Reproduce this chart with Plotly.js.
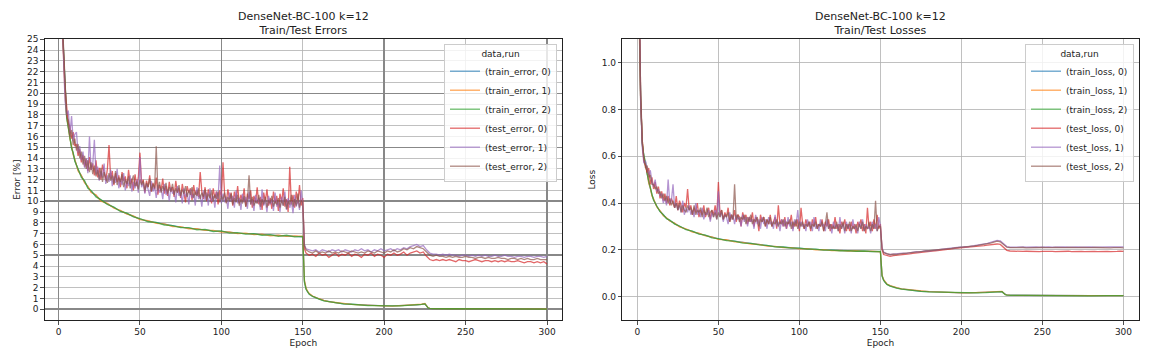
<!DOCTYPE html>
<html><head><meta charset="utf-8">
<script src="https://cdn.plot.ly/plotly-3.0.1.min.js"></script>
<style>html,body{margin:0;padding:0;background:#fff}#chart{width:1152px;height:360px}</style>
</head><body><div id="chart"></div>
<script>
// ---- data ----
const runs = [0, 1, 2];
const colors = ['#1f77b4', '#ff7f0e', '#2ca02c', '#d62728', '#9467bd', '#8c564b'];

// epochs at which the (smooth) train curves are sampled
const trainEpochs = [0,1,2,3,4,5,6,7,8,9, 10,12,14,16,18,20,23,26,30,34, 38,42,46,50,55,60,65,70,75,80,
  85,90,95,100,105,110,115,120,125,130, 135,140,145,150,151,152,153,154,156,158,
  160,163,166,170,175,180,185,190,195,200, 205,210,215,220,223,225,226,227,228,230, 240,250,260,270,280,290,300];

// test curves: every epoch up to 150, then epoch 151 and every 2nd epoch to 300
const testEpochs = [];
for (let e = 0; e <= 150; e++) testEpochs.push(e);
testEpochs.push(151);
for (let e = 152; e <= 300; e += 2) testEpochs.push(e);

const trainError0 = [48.0,33.0,27.0,24.0,20.0,17.8,16.9,15.9,15.0,14.4, 13.8,12.9,12.3,11.8,11.3,10.9,10.5,10.1,9.75,9.4,
  9.1,8.85,8.6,8.35,8.15,8.0,7.85,7.7,7.6,7.5, 7.4,7.35,7.25,7.2,7.1,7.05,7.0,6.95,6.9,6.85,
  6.8,6.8,6.75,6.7,2.6,1.9,1.6,1.4,1.2,1.05, 0.95,0.8,0.7,0.6,0.5,0.45,0.4,0.35,0.33,0.3,
  0.3,0.32,0.35,0.4,0.45,0.5,0.3,0.12,0.08,0.06, 0.04,0.03,0.03,0.02,0.02,0.02,0.02];
const trainError1 = [47.0,32.5,26.5,23.6,19.8,17.9,16.7,15.8,15.1,14.3, 13.9,12.8,12.4,11.7,11.4,10.8,10.6,10.0,9.8,9.35,
  9.15,8.8,8.65,8.3,8.2,7.95,7.9,7.65,7.65,7.45, 7.45,7.3,7.3,7.15,7.15,7.0,7.05,6.9,6.95,6.8,
  6.85,6.75,6.8,6.75,2.7,1.95,1.65,1.45,1.22,1.07, 0.97,0.82,0.7,0.62,0.52,0.44,0.41,0.36,0.32,0.31,
  0.29,0.33,0.36,0.42,0.46,0.52,0.32,0.13,0.08,0.06, 0.04,0.03,0.03,0.02,0.02,0.02,0.02];
const trainError2 = [48.5,33.5,27.2,24.2,20.2,17.7,16.8,16.0,14.9,14.5, 13.7,13.0,12.2,11.9,11.2,11.0,10.4,10.15,9.7,9.45,
  9.05,8.9,8.55,8.4,8.1,8.05,7.8,7.75,7.55,7.55, 7.35,7.4,7.2,7.25,7.05,7.1,6.95,7.0,6.85,6.9,
  6.75,6.85,6.7,6.75,2.5,1.85,1.55,1.38,1.18,1.03, 0.93,0.78,0.69,0.59,0.49,0.46,0.39,0.34,0.33,0.29,
  0.31,0.31,0.34,0.39,0.44,0.49,0.29,0.11,0.07,0.05, 0.04,0.03,0.02,0.02,0.02,0.02,0.01];

const testError0 = [48.0,33.5,27.0,24.0,20.5,18.8,17.2,16.9,15.8,16.4,
  15.1,15.3,14.2,14.8,13.6,14.3,13.2,13.9,12.8,14.1, 12.9,13.5,12.4,13.8,12.2,13.1,12.0,13.4,12.6,11.9,
  13.0,15.2,12.1,12.8,11.5,12.6,11.8,12.4,11.3,12.7, 11.9,12.3,11.2,12.9,11.6,12.1,11.0,12.5,11.4,12.2,
  14.5,11.6,12.0,10.8,11.9,11.3,12.4,10.9,11.7,11.1, 12.2,10.6,11.5,11.0,12.1,10.7,11.4,10.5,11.8,10.9,
  11.3,10.4,11.9,10.8,11.2,10.3,11.6,10.7,9.9,11.4, 10.8,11.2,10.1,11.5,10.6,11.0,10.4,12.7,10.9,10.2,
  11.3,10.0,11.1,10.5,9.8,11.2,10.3,10.9,9.7,11.0, 10.4,13.6,10.6,9.9,11.1,10.2,10.8,9.6,10.9,10.1,
  11.4,9.8,10.6,10.0,11.2,9.5,10.7,10.2,11.0,9.4, 10.5,9.9,11.3,9.7,10.4,9.2,10.8,10.0,11.1,9.6,
  10.3,9.3,10.9,9.8,10.5,9.1,10.7,9.9,11.2,9.5, 10.2,9.0,13.2,9.7,10.6,9.4,10.9,9.8,11.5,9.6, 10.3,
  5.6,5.2,5.0,5.1,4.9,5.2,5.0,5.1,4.8,5.0, 5.2,4.9,5.1,5.0,5.2,4.9,5.1,5.0,4.8,5.1,
  5.0,5.2,4.9,5.1,5.0,4.8,5.1,5.0,5.2,5.0, 5.1,5.3,5.0,5.2,5.3,5.4,5.2,5.3,4.9,4.6,
  4.5,4.6,4.5,4.6,4.5,4.6,4.5,4.4,4.6,4.5, 4.5,4.4,4.5,4.6,4.5,4.4,4.5,4.5,4.4,4.5,
  4.4,4.5,4.4,4.5,4.4,4.4,4.5,4.4,4.3,4.4, 4.4,4.3,4.4,4.3,4.4,4.2];
const testError1 = [50.0,34.0,27.5,23.5,19.3,18.0,18.4,16.3,17.9,15.6,
  16.2,16.4,14.5,15.1,13.8,14.6,13.1,14.0,12.6,16.0, 12.9,13.4,15.7,12.5,13.2,11.9,12.8,12.2,13.5,11.6,
  12.4,11.8,12.9,11.4,12.3,11.7,13.0,11.2,12.1,11.5, 12.6,11.0,11.9,11.4,12.4,10.9,11.8,11.2,12.0,10.8,
  14.1,11.3,11.7,10.7,11.6,11.1,10.5,11.9,10.9,11.4, 10.3,11.5,10.8,11.2,10.2,11.6,10.6,11.1,10.0,11.3,
  10.7,11.0,9.9,11.4,10.5,10.9,9.8,11.2,10.4,10.8, 9.7,11.1,10.3,10.7,9.6,11.3,10.2,10.6,9.5,11.0,
  10.1,10.8,9.6,11.2,10.0,10.5,9.4,10.9,10.2,13.3, 9.8,10.7,9.9,10.4,9.3,10.8,10.0,10.5,9.4,11.0,
  9.8,10.3,9.2,10.7,9.9,10.4,9.3,10.9,9.7,10.2, 9.1,10.6,9.8,10.3,9.2,11.1,9.6,10.1,9.0,10.5,
  9.7,10.2,9.1,10.8,9.5,10.0,9.0,10.4,9.6,10.9, 9.2,10.3,9.4,10.0,8.9,10.6,9.5,10.1,9.2,11.0, 9.7,
  6.0,5.6,5.5,5.4,5.5,5.3,5.5,5.4,5.3,5.5, 5.4,5.5,5.3,5.5,5.4,5.3,5.5,5.4,5.6,5.4,
  5.5,5.3,5.5,5.4,5.6,5.4,5.5,5.6,5.4,5.6, 5.5,5.7,5.6,5.8,5.9,6.0,5.8,5.9,5.5,5.2,
  5.1,5.1,5.0,5.1,5.0,5.1,5.0,5.0,4.9,5.0, 5.0,4.9,5.0,4.9,5.0,4.9,5.0,4.9,4.9,5.0,
  4.9,4.9,5.0,4.9,4.9,4.8,4.9,4.9,4.8,4.9, 4.9,4.8,4.9,4.9,4.8,4.9];
const testError2 = [49.0,33.0,28.0,24.5,20.8,17.8,17.5,16.0,16.6,15.2,
  15.8,14.7,15.3,14.0,14.6,13.4,14.2,13.0,13.8,12.7, 13.6,12.5,13.3,12.3,12.9,12.0,13.1,11.8,12.7,12.1,
  11.7,12.6,11.9,12.4,11.6,12.8,11.5,12.2,11.8,12.5, 11.3,12.0,11.6,12.3,11.2,11.9,12.4,11.4,11.8,11.1,
  12.0,11.5,11.9,11.0,11.7,11.3,12.1,10.9,11.6,11.2, 15.1,11.0,11.8,10.8,11.4,11.0,11.7,10.7,11.3,10.9,
  11.6,10.6,11.2,10.8,11.5,10.5,11.1,10.7,11.4,10.4, 11.0,10.6,11.3,10.3,10.9,10.5,11.2,10.2,10.8,10.4,
  11.1,10.1,10.7,10.3,11.0,10.0,10.6,10.2,10.9,9.9, 10.5,10.1,10.8,9.8,10.4,10.0,10.7,9.7,10.3,9.9,
  10.6,9.6,10.2,9.8,10.5,9.5,10.1,12.4,9.7,10.4, 9.6,10.0,9.8,10.6,9.5,10.2,9.7,10.4,9.4,10.1,
  9.8,10.5,9.5,10.0,9.7,10.3,9.4,10.1,9.6,10.4, 9.3,10.0,9.7,10.6,9.5,10.2,9.6,10.7,9.4,10.1, 9.9,
  5.9,5.5,5.3,5.2,5.4,5.2,5.3,5.2,5.4,5.2, 5.3,5.2,5.4,5.3,5.2,5.4,5.3,5.2,5.3,5.2,
  5.4,5.3,5.2,5.4,5.3,5.2,5.4,5.3,5.5,5.3, 5.4,5.6,5.5,5.7,5.6,5.8,5.7,5.6,5.3,5.0,
  4.9,5.0,4.9,4.9,4.8,4.9,4.8,4.9,4.8,4.8, 4.9,4.8,4.8,4.7,4.8,4.8,4.7,4.8,4.7,4.7,
  4.8,4.7,4.7,4.6,4.7,4.7,4.6,4.7,4.6,4.7, 4.6,4.6,4.7,4.6,4.6,4.6];

const trainLoss0 = [2.2,1.25,0.85,0.66,0.60,0.57,0.53,0.49,0.46,0.435, 0.415,0.385,0.365,0.348,0.335,0.325,0.312,0.30,0.288,0.278,
  0.269,0.262,0.253,0.247,0.241,0.236,0.231,0.227,0.222,0.218, 0.214,0.211,0.208,0.206,0.204,0.202,0.200,0.198,0.197,0.196,
  0.195,0.194,0.193,0.192,0.09,0.07,0.06,0.053,0.046,0.041, 0.037,0.033,0.03,0.026,0.023,0.021,0.019,0.018,0.017,0.016,
  0.016,0.017,0.018,0.019,0.02,0.021,0.015,0.009,0.007,0.006, 0.005,0.004,0.004,0.004,0.004,0.004,0.004];
const trainLoss1 = [2.1,1.22,0.84,0.67,0.59,0.565,0.535,0.485,0.465,0.43, 0.418,0.383,0.367,0.346,0.337,0.323,0.314,0.298,0.29,0.276,
  0.271,0.26,0.255,0.245,0.243,0.234,0.232,0.225,0.223,0.216, 0.215,0.209,0.209,0.204,0.205,0.2,0.201,0.197,0.198,0.195,
  0.196,0.193,0.194,0.191,0.092,0.072,0.061,0.054,0.047,0.042, 0.038,0.033,0.031,0.026,0.024,0.021,0.02,0.018,0.017,0.016,
  0.016,0.017,0.018,0.02,0.021,0.022,0.016,0.009,0.007,0.006, 0.005,0.004,0.004,0.004,0.004,0.004,0.004];
const trainLoss2 = [2.3,1.27,0.86,0.65,0.605,0.575,0.525,0.495,0.455,0.438, 0.412,0.388,0.363,0.35,0.333,0.327,0.31,0.302,0.286,0.28,
  0.267,0.263,0.251,0.248,0.239,0.237,0.229,0.228,0.221,0.219, 0.213,0.212,0.207,0.207,0.203,0.203,0.199,0.199,0.196,0.197,
  0.194,0.195,0.192,0.193,0.088,0.069,0.059,0.052,0.045,0.04, 0.036,0.032,0.029,0.025,0.022,0.02,0.019,0.017,0.016,0.016,
  0.015,0.016,0.017,0.019,0.02,0.021,0.015,0.008,0.006,0.005, 0.005,0.004,0.004,0.004,0.003,0.004,0.004];

const testLoss0 = [2.1,1.3,0.86,0.66,0.58,0.56,0.53,0.55,0.48,0.51,
  0.46,0.49,0.44,0.47,0.42,0.45,0.41,0.44,0.40,0.43, 0.39,0.42,0.40,0.38,0.43,0.37,0.41,0.39,0.36,0.40,
  0.38,0.46,0.37,0.39,0.35,0.38,0.36,0.40,0.34,0.37, 0.35,0.39,0.34,0.36,0.38,0.33,0.37,0.35,0.39,0.34,
  0.49,0.35,0.37,0.33,0.36,0.34,0.38,0.32,0.35,0.33, 0.37,0.32,0.35,0.34,0.30,0.36,0.33,0.35,0.31,0.34,
  0.32,0.36,0.30,0.34,0.33,0.28,0.35,0.32,0.34,0.30, 0.33,0.31,0.35,0.30,0.32,0.34,0.29,0.39,0.31,0.33,
  0.30,0.34,0.29,0.32,0.31,0.35,0.29,0.32,0.30,0.33, 0.28,0.38,0.31,0.29,0.33,0.30,0.32,0.28,0.33,0.30,
  0.34,0.29,0.31,0.30,0.33,0.28,0.32,0.30,0.33,0.28, 0.31,0.29,0.34,0.29,0.31,0.27,0.32,0.30,0.33,0.28,
  0.31,0.28,0.32,0.29,0.31,0.27,0.32,0.30,0.33,0.28, 0.31,0.27,0.38,0.29,0.32,0.28,0.33,0.29,0.35,0.29, 0.31,
  0.20,0.18,0.175,0.172,0.175,0.176,0.178,0.18,0.181,0.183, 0.185,0.186,0.188,0.19,0.19,0.193,0.194,0.196,0.197,0.20,
  0.20,0.203,0.204,0.206,0.207,0.21,0.21,0.212,0.213,0.215, 0.216,0.217,0.218,0.22,0.222,0.224,0.225,0.223,0.21,0.198,
  0.195,0.194,0.195,0.194,0.193,0.194,0.193,0.194,0.193,0.192, 0.193,0.194,0.192,0.193,0.192,0.193,0.192,0.193,0.194,0.192,
  0.193,0.194,0.193,0.192,0.193,0.194,0.193,0.192,0.193,0.194, 0.193,0.192,0.194,0.193,0.194,0.193];
const testLoss1 = [2.0,1.28,0.84,0.64,0.57,0.58,0.55,0.52,0.54,0.49,
  0.47,0.50,0.45,0.46,0.43,0.44,0.40,0.42,0.39,0.50, 0.40,0.41,0.48,0.38,0.40,0.37,0.39,0.36,0.41,0.35,
  0.38,0.36,0.39,0.35,0.37,0.34,0.40,0.35,0.37,0.34, 0.38,0.33,0.36,0.35,0.37,0.32,0.36,0.34,0.37,0.33,
  0.45,0.34,0.36,0.32,0.35,0.34,0.31,0.36,0.33,0.35, 0.31,0.35,0.33,0.34,0.30,0.35,0.32,0.34,0.30,0.34,
  0.32,0.33,0.29,0.35,0.31,0.33,0.29,0.34,0.31,0.33, 0.29,0.34,0.31,0.32,0.29,0.35,0.30,0.32,0.28,0.33,
  0.30,0.33,0.29,0.34,0.30,0.32,0.28,0.33,0.31,0.37, 0.29,0.32,0.30,0.31,0.28,0.33,0.30,0.32,0.28,0.34,
  0.29,0.31,0.28,0.33,0.30,0.31,0.28,0.33,0.29,0.31, 0.27,0.32,0.29,0.31,0.28,0.34,0.29,0.31,0.27,0.32,
  0.29,0.31,0.27,0.33,0.29,0.30,0.27,0.32,0.29,0.33, 0.28,0.31,0.29,0.30,0.27,0.32,0.29,0.31,0.28,0.34, 0.30,
  0.21,0.19,0.183,0.18,0.182,0.181,0.184,0.186,0.185,0.188, 0.19,0.192,0.191,0.194,0.196,0.195,0.198,0.20,0.201,0.203,
  0.204,0.206,0.208,0.207,0.21,0.212,0.214,0.213,0.216,0.218, 0.22,0.222,0.225,0.228,0.232,0.236,0.24,0.238,0.225,0.214,
  0.211,0.212,0.211,0.213,0.212,0.211,0.212,0.213,0.212,0.211, 0.212,0.213,0.212,0.211,0.212,0.213,0.212,0.212,0.211,0.212,
  0.213,0.212,0.211,0.212,0.213,0.212,0.211,0.212,0.213,0.212, 0.212,0.213,0.212,0.211,0.212,0.213];
const testLoss2 = [2.2,1.32,0.88,0.67,0.59,0.55,0.56,0.51,0.52,0.48,
  0.48,0.46,0.47,0.44,0.45,0.42,0.44,0.41,0.43,0.40, 0.42,0.39,0.41,0.38,0.40,0.37,0.40,0.36,0.39,0.37,
  0.36,0.39,0.37,0.38,0.35,0.39,0.35,0.37,0.36,0.38, 0.34,0.37,0.35,0.38,0.34,0.36,0.37,0.34,0.36,0.33,
  0.36,0.34,0.37,0.33,0.35,0.34,0.36,0.32,0.35,0.33, 0.48,0.33,0.35,0.32,0.34,0.33,0.35,0.31,0.34,0.32,
  0.35,0.31,0.33,0.32,0.34,0.30,0.33,0.32,0.34,0.30, 0.33,0.31,0.34,0.30,0.32,0.31,0.33,0.30,0.32,0.31,
  0.33,0.30,0.32,0.31,0.33,0.29,0.32,0.30,0.33,0.29, 0.32,0.30,0.32,0.29,0.31,0.30,0.32,0.29,0.31,0.30,
  0.32,0.29,0.31,0.30,0.32,0.28,0.31,0.36,0.29,0.31, 0.29,0.30,0.29,0.32,0.28,0.31,0.29,0.32,0.28,0.31,
  0.29,0.32,0.28,0.30,0.29,0.31,0.28,0.31,0.29,0.32, 0.28,0.30,0.29,0.32,0.28,0.31,0.29,0.41,0.28,0.30, 0.30,
  0.205,0.188,0.182,0.179,0.181,0.18,0.183,0.184,0.186,0.187, 0.189,0.19,0.192,0.193,0.195,0.196,0.197,0.199,0.20,0.202,
  0.203,0.205,0.206,0.208,0.209,0.211,0.212,0.214,0.215,0.217, 0.219,0.221,0.223,0.226,0.229,0.233,0.237,0.234,0.222,0.211,
  0.209,0.21,0.208,0.209,0.21,0.208,0.209,0.21,0.208,0.209, 0.21,0.209,0.208,0.209,0.21,0.209,0.208,0.209,0.21,0.209,
  0.208,0.209,0.21,0.209,0.208,0.209,0.21,0.209,0.208,0.209, 0.209,0.208,0.209,0.21,0.209,0.208];

const errTicks = [0,1,2,3,4,5,6,7,8,9,10,11,12,13,14,15,16,17,18,19,20,21,22,23,24,25];

// ---- figure ----
const FONT = '"DejaVu Sans", Verdana, sans-serif';
function rgba(hex, a) {
  const n = parseInt(hex.slice(1), 16);
  return `rgba(${(n >> 16) & 255},${(n >> 8) & 255},${n & 255},${a})`;
}
const traces = [];
// the last error series sits on the overlay axes (x3/y3, identical ranges)
// that carry the darker major grid of the error plot
function addSet(kind, trains, tests, axes, leg) {
  trains.forEach((ys, i) => traces.push({
    type: 'scatter', mode: 'lines', x: trainEpochs, y: ys, xaxis: axes[i][0], yaxis: axes[i][1], legend: leg,
    name: `(train_${kind}, ${runs[i]})`, line: {color: rgba(colors[i], 0.7), width: 1.3}, hoverinfo: 'skip'
  }));
  tests.forEach((ys, i) => traces.push({
    type: 'scatter', mode: 'lines', x: testEpochs, y: ys, xaxis: axes[3 + i][0], yaxis: axes[3 + i][1], legend: leg,
    name: `(test_${kind}, ${runs[i]})`, line: {color: rgba(colors[3 + i], 0.7), width: 1.3}, hoverinfo: 'skip'
  }));
}
const errAxes = [['x','y'],['x','y'],['x','y'],['x','y'],['x','y'],['x3','y3']];
const lossAxes = [['x2','y2'],['x2','y2'],['x2','y2'],['x2','y2'],['x2','y2'],['x2','y2']];
addSet('error', [trainError0, trainError1, trainError2], [testError0, testError1, testError2], errAxes, 'legend');
addSet('loss', [trainLoss0, trainLoss1, trainLoss2], [testLoss0, testLoss1, testLoss2], lossAxes, 'legend2');

const W = 1152, H = 360;
const L1 = [44.7 / W, 562 / W], L2 = [622.3 / W, 1138.7 / W];
const YD = [1 - 320 / H, 1 - 39.3 / H];
const X1R = [-8.5, 309.2], Y1R = [-1, 25];
const axisCommon = {
  ticks: 'outside', ticklen: 3.5, tickwidth: 0.8, tickcolor: '#222',
  showline: true, mirror: true, linecolor: '#222', linewidth: 1,
  showgrid: true, gridcolor: '#b0b0b0', gridwidth: 0.8, zeroline: false,
  tickfont: {size: 9, color: '#222'}
};
const darkGrid = {
  showgrid: true, gridcolor: '#888888', gridwidth: 1.5, zeroline: false,
  showticklabels: false, ticks: '', showline: false
};

const legendCommon = {
  bgcolor: 'rgba(255,255,255,0.8)', bordercolor: '#cccccc', borderwidth: 1,
  font: {size: 9, color: '#222'}, xanchor: 'right', yanchor: 'top',
  title: {text: 'data,run', side: 'top center', font: {size: 9, color: '#222'}},
  itemwidth: 30, tracegroupgap: 0
};

const layout = {
  width: W, height: H, margin: {l: 0, r: 0, t: 0, b: 0},
  paper_bgcolor: '#ffffff', plot_bgcolor: '#ffffff',
  font: {family: FONT, size: 9, color: '#222'},
  showlegend: true,
  xaxis: Object.assign({}, axisCommon, {domain: L1, anchor: 'y', range: X1R, tick0: 0, dtick: 50,
    title: {text: 'Epoch', font: {size: 9}, standoff: 3}}),
  yaxis: Object.assign({}, axisCommon, {domain: YD, anchor: 'x', range: Y1R, tickvals: errTicks,
    title: {text: 'Error [%]', font: {size: 9}, standoff: 4}}),
  xaxis3: Object.assign({}, darkGrid, {overlaying: 'x', anchor: 'y3', range: X1R, tick0: 0, dtick: 100}),
  yaxis3: Object.assign({}, darkGrid, {overlaying: 'y', anchor: 'x3', side: 'left', range: Y1R, tick0: 0, dtick: 5}),
  xaxis2: Object.assign({}, axisCommon, {domain: L2, anchor: 'y2', range: [-9.3, 309.4], tick0: 0, dtick: 50,
    title: {text: 'Epoch', font: {size: 9}, standoff: 3}}),
  yaxis2: Object.assign({}, axisCommon, {domain: YD, anchor: 'x2', range: [-0.1, 1.1], tick0: 0, dtick: 0.2, tickformat: '.1f',
    title: {text: 'Loss', font: {size: 9}, standoff: 4}}),
  legend: Object.assign({}, legendCommon, {x: 557 / W, y: 1 - 44 / H}),
  legend2: Object.assign({}, legendCommon, {x: 1134 / W, y: 1 - 44 / H}),
  annotations: [
    {xref: 'paper', yref: 'paper', x: (L1[0] + L1[1]) / 2, y: YD[1], xanchor: 'center', yanchor: 'bottom',
      showarrow: false, text: 'DenseNet-BC-100 k=12<br>Train/Test Errors', font: {size: 11, color: '#222'}},
    {xref: 'paper', yref: 'paper', x: (L2[0] + L2[1]) / 2, y: YD[1], xanchor: 'center', yanchor: 'bottom',
      showarrow: false, text: 'DenseNet-BC-100 k=12<br>Train/Test Losses', font: {size: 11, color: '#222'}}
  ]
};

Plotly.newPlot('chart', traces, layout, {staticPlot: true, displayModeBar: false});
</script>
</body></html>
